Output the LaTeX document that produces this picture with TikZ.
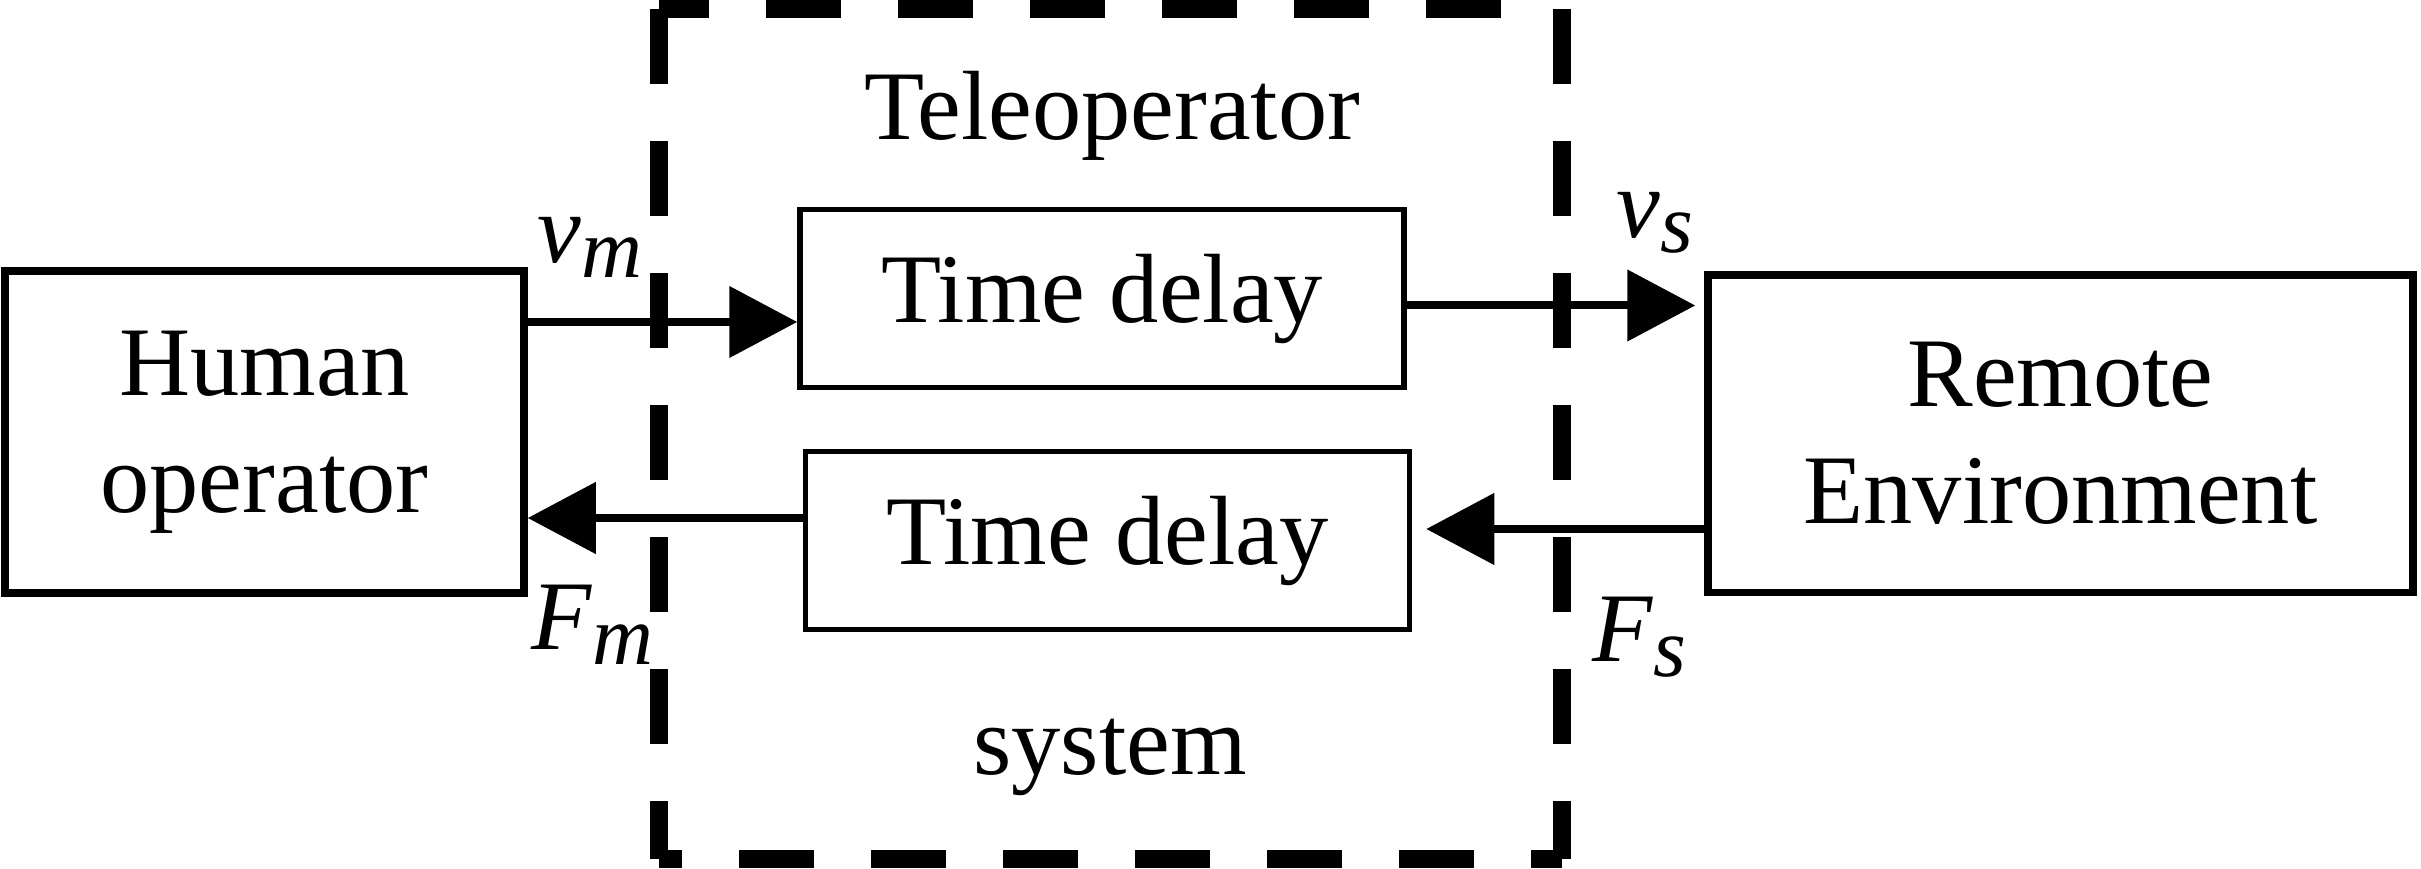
\documentclass[tikz,border=0pt]{standalone}
\usepackage{fontspec}
\setmainfont{Liberation Serif}
\usepackage{tikz}
\usetikzlibrary{arrows.meta}

\newcommand{\sigvar}[2]{\textit{#1}\raisebox{-4pt}{\fontsize{24}{24}\selectfont\textit{#2}}}

\begin{document}
\begin{tikzpicture}[
    every node/.style={font=\fontsize{28}{33.3}\selectfont, inner sep=0pt},
    block/.style={draw, line width=0.075cm, align=center},
    delay/.style={draw, line width=0.055cm, minimum width=6.04cm, minimum height=1.78cm},
    sig/.style={line width=0.08cm, -{Triangle[length=0.68cm, width=0.70cm]}},
    frame/.style={line width=0.18cm, dash pattern=on 0.75cm off 0.57cm}
]
  \useasboundingbox (0,0) rectangle (24.21,8.69);

  % Teleoperator system frame (dashed)
  \coordinate (tl) at (6.59,8.60);
  \coordinate (tr) at (15.62,8.60);
  \coordinate (bl) at (6.59,0.10);
  \coordinate (br) at (15.62,0.10);
  \draw[frame] (tl) -- (bl);
  \draw[frame] (tr) -- (br);
  \draw[frame, dash phase=0.25cm, shorten >=0.3cm] (tl) -- (tr);
  \draw[frame, dash phase=0.52cm] (bl) -- (br);

  \node[anchor=base] (tele) at (11.12,7.29) {Teleoperator};
  \node[anchor=base] (sys)  at (11.10,0.94) {system};

  % Outer blocks
  \node[block, minimum width=5.19cm, minimum height=3.22cm] (hum) at (2.645,4.37) {Human\\operator};
  \node[block, minimum width=7.05cm, minimum height=3.175cm] (env) at (20.605,4.3525) {Remote\\Environment};

  % Delay blocks
  \node[delay] (td1) at (11.02,5.705) {Time delay};
  \node[delay] (td2) at (11.075,3.285) {Time delay};

  % Signal rows
  \coordinate (vmrow) at (0,5.47);
  \coordinate (vsrow) at (0,5.635);
  \coordinate (fmrow) at (0,3.51);
  \coordinate (fsrow) at (0,3.40);

  % Forward path
  \draw[sig] (hum.east |- vmrow) -- (td1.west |- vmrow);
  \draw[sig, line cap=round, shorten >=0.09cm] (td1.east |- vsrow) -- (env.west |- vsrow);

  % Return path
  \draw[sig] (td2.west |- fmrow) -- (hum.east |- fmrow);
  \draw[sig, shorten >=0.14cm] (env.west |- fsrow) -- (td2.east |- fsrow);

  % Signal labels
  \node[anchor=base west] (vm) at (5.37,6.06)  {\sigvar{v}{m}};
  \node[anchor=base west] (vs) at (16.16,6.31) {\sigvar{v}{s}};
  \node[anchor=base west] (fm) at (5.31,2.19)  {\sigvar{F}{m}};
  \node[anchor=base west] (fs) at (15.92,2.07) {\sigvar{F}{s}};
\end{tikzpicture}
\end{document}
